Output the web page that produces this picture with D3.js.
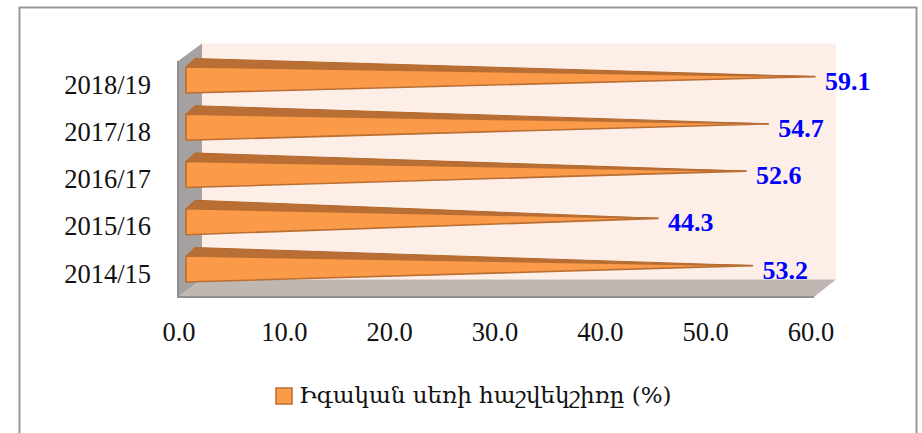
<!DOCTYPE html>
<html><head><meta charset="utf-8">
<script src="https://cdn.jsdelivr.net/npm/d3@7/dist/d3.min.js"></script>
<style>html,body{margin:0;padding:0;background:#fff;overflow:hidden}svg{display:block}</style>
</head><body><svg id="c" width="922" height="433"></svg>
<script>
const categories = ["2018/19","2017/18","2016/17","2015/16","2014/15"];
const values = [59.1,54.7,52.6,44.3,53.2];
const xTicks = [0,10,20,30,40,50,60];
const seriesName = "Իգական սեռի հաշվեկշիռը (%)";

const serif = "'Liberation Serif',serif";
const svg = d3.select("#c");
const x = d3.scaleLinear().domain([0,60]).range([178,814]);
const xLabel = d3.scaleLinear().domain([0,60]).range([179,811]);
const y = d3.scaleBand().domain(categories).range([56.5,292.5]).paddingInner(0.45).paddingOuter(0.222);
const dxL = 24, dxR = 22, dy = -17.5;
const yT = 61, yB = 297;
const path = p => "M" + p.map(d=>d.join(",")).join("L") + "Z";

// chart frame (open at the picture bottom)
svg.append("rect").attr("x",19.5).attr("y",7.5).attr("width",897).attr("height",440)
  .attr("fill","#fff").attr("stroke","#999").attr("stroke-width",2);

// back wall, side wall, floor
const x0=x(0), x1=x(60);
svg.append("path").attr("d",path([[x0+dxL,yT+dy],[x1+dxR,yT+dy],[x1+dxR,yB+dy],[x0+dxL,yB+dy]])).attr("fill","#fdeee8");
svg.append("path").attr("d",path([[x0,yT],[x0+dxL,yT+dy],[x0+dxL,yB+dy],[x0,yB]])).attr("fill","#a5a1a0");
svg.append("path").attr("d",path([[x0,yB],[x0+dxL,yB+dy],[x1+dxR,yB+dy],[x1,yB]])).attr("fill","#c1b7b2");
svg.append("path").attr("d",`M${x0},${yT}V${yB}H${x1}`).attr("fill","none").attr("stroke","#8f8f8f").attr("stroke-width",2);

// pyramids
const g = svg.append("g");
const h = y.bandwidth();
categories.forEach((c,i)=>{
  const v = values[i], top = y(c), bot = top+h;
  const apex = [x(v)+10.5, top+h*0.37];
  const left = x(0)+8;
  g.append("path").attr("d",path([[left,top],[left+9,top-8.5],apex]))
    .attr("fill","#b96f34").attr("stroke","#b3682c").attr("stroke-width",1);
  g.append("path").attr("d",path([[left,top],[left,bot],apex]))
    .attr("fill","#fb9a48").attr("stroke","#b96f34").attr("stroke-width",1.6).attr("stroke-linejoin","round");
  svg.append("text").attr("x",apex[0]+10).attr("y",top+h*0.37+13)
    .attr("font-family",serif).attr("font-size",26).attr("font-weight","bold").attr("fill","#0000ff")
    .text(v.toFixed(1));
  svg.append("text").attr("x",151).attr("y",top+h*0.37+17).attr("text-anchor","end")
    .attr("font-family",serif).attr("font-size",26.5).attr("fill","#111").text(c);
});

// x axis labels
svg.append("g").selectAll("text").data(xTicks).join("text")
  .attr("x",d=>xLabel(d)).attr("y",341).attr("text-anchor","middle")
  .attr("font-family",serif).attr("font-size",26.5).attr("fill","#111")
  .text(d=>d.toFixed(1));

// legend
svg.append("rect").attr("x",276).attr("y",388).attr("width",16).attr("height",16)
  .attr("fill","#fb9a48").attr("stroke","#b96f34").attr("stroke-width",1.5);
svg.append("text").attr("x",299).attr("y",403).attr("font-family","'DejaVu Serif',serif")
  .attr("font-size",23).attr("fill","#111").text(seriesName);
</script></body></html>
